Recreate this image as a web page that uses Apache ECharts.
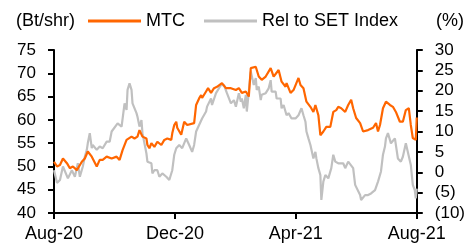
<!DOCTYPE html>
<html>
<head>
<meta charset="utf-8">
<script src="https://cdn.jsdelivr.net/npm/echarts@6/dist/echarts.min.js"></script>
<style>
html,body{margin:0;padding:0;background:#fff;}
#chart{width:468px;height:244px;}
</style>
</head>
<body>
<div id="chart"></div>
<script>
// Day offsets from 1 Aug 2020
const xTickLabels = ['Aug-20', 'Dec-20', 'Apr-21', 'Aug-21'];
const leftTicks = [40, 75, 5];
const rightTicks = [-10, 30, 5];

const mtcDays = [0,3,6,9,13,16,19,23,28,31,34,38,43,46,49,53,58,59,63,66,69,71,73,74,78,81,84,86,89,93,94,96,98,101,104,108,111,114,118,119,121,123,124,128,131,134,141,143,146,148,149,153,155,158,161,164,169,173,178,183,186,189,193,196,198,199,203,206,209,213,218,221,226,229,233,234,238,241,246,248,251,254,258,261,263,266,268,271,274,278,281,284,286,289,293,296,299,301,304,308,311,316,321,324,326,328,331,334,338,341,344,348,351,354,357,359,361,364,365];
const mtc = [51.0,50.0,50.3,51.7,50.7,49.6,50.0,49.2,51.0,51.7,53.2,52.1,50.0,51.4,51.4,52.1,51.7,51.4,52.1,51.4,53.5,53.9,55.7,56.0,56.4,56.0,56.4,57.8,56.4,56.0,54.6,53.9,55.0,54.2,55.3,54.6,55.7,56.0,55.7,57.1,58.9,59.6,58.3,56.8,59.6,58.9,59.3,63.2,64.6,65.3,64.7,66.1,66.8,65.8,66.8,67.1,67.9,66.8,66.8,66.4,66.8,65.8,66.1,65.0,71.1,70.7,71.4,69.3,68.6,69.3,71.1,69.3,70.7,68.2,67.1,67.9,65.8,66.4,69.0,67.5,66.8,63.9,62.8,61.7,63.2,61.0,56.7,57.5,58.5,58.5,61.7,62.1,62.8,62.5,61.7,63.2,64.3,62.5,60.4,59.3,57.5,57.8,58.3,59.3,57.5,58.9,62.5,63.9,63.2,62.8,61.7,59.6,59.6,62.1,62.5,58.9,56.1,55.7,60.5];

const relDays = [0,3,6,9,14,18,21,24,26,29,31,33,34,36,38,39,43,46,49,53,56,58,59,64,68,71,73,74,76,78,79,83,84,86,88,89,93,94,98,99,101,104,106,109,113,116,119,121,123,126,129,133,136,139,141,143,146,149,153,154,156,158,159,163,164,168,169,171,174,178,181,183,186,188,189,191,193,194,196,198,199,201,203,204,206,208,209,213,216,218,219,223,224,228,229,231,234,236,239,243,246,249,251,253,254,256,258,259,261,263,264,266,268,269,271,273,276,279,281,283,286,288,291,293,296,298,301,303,304,308,309,313,316,319,323,326,329,331,333,334,336,338,339,343,346,349,351,354,356,359,361,363,364,365];
const rel = [0.5,-2.6,-1.9,1.4,-1.5,0.5,-1.1,2.2,-1.1,1.4,3.8,5.5,7.1,9.6,5.9,6.7,5.5,6.3,5.9,7.5,7.5,10.0,10.4,12.0,11.2,16.9,15.3,20.2,21.8,20.2,16.9,14.5,13.6,11.2,12.8,9.6,4.6,2.6,2.2,-0.3,0.5,0.5,-1.1,-0.3,-1.1,-1.9,0.5,4.3,5.9,6.7,5.9,8.3,6.7,5.0,6.7,10.0,11.6,13.2,14.9,16.1,15.7,18.1,16.5,19.4,19.0,21.4,21.8,21.4,19.4,16.9,17.7,16.1,19.4,17.3,18.1,15.7,19.0,14.9,14.5,24.7,24.3,21.4,23.1,20.2,21.0,17.7,19.0,19.4,20.6,22.6,19.8,19.8,18.1,18.1,15.7,16.5,14.0,14.5,13.2,13.2,14.0,15.7,14.0,12.4,10.0,8.3,6.7,6.3,3.4,5.0,3.4,1.0,-0.7,-6.8,-2.3,-0.7,-1.5,1.0,4.3,2.6,2.2,1.8,2.2,1.0,2.6,2.6,1.0,-3.1,-2.7,-5.6,-6.8,-5.6,-5.6,-5.2,-4.4,-2.3,0.2,4.3,6.3,8.3,9.6,9.2,7.1,8.3,3.4,2.6,3.8,7.1,7.5,1.8,-3.1,-4.4,-6.4,-4.0];

const FONT = 'Liberation Sans, Arial, sans-serif';
const chart = echarts.init(document.getElementById('chart'), null, {renderer: 'canvas'});
const xInterval = 365 / 3;
const axisLine = {show: true, onZero: false, lineStyle: {color: '#000', width: 2}};
const axisTick = {show: true, length: 6, lineStyle: {color: '#000', width: 2}};

chart.setOption({
  animation: false,
  backgroundColor: '#fff',
  grid: {left: 54, right: 49, top: 50, bottom: 31, containLabel: false},
  legend: {
    data: ['MTC', 'Rel to SET Index'],
    left: 88, top: 12, padding: 0,
    icon: 'rect', itemWidth: 53, itemHeight: 3, itemGap: 19,
    textStyle: {fontFamily: FONT, fontSize: 18, color: '#000'}
  },
  graphic: [
    {type: 'text', left: 16, top: 12, style: {text: '(Bt/shr)', font: '18px ' + FONT, fill: '#000'}},
    {type: 'text', left: 436, top: 12, style: {text: '(%)', font: '18px ' + FONT, fill: '#000'}}
  ],
  xAxis: {
    type: 'value', min: 0, max: 365, interval: xInterval,
    axisLine: axisLine, axisTick: axisTick, splitLine: {show: false},
    axisLabel: {
      margin: 12, fontFamily: FONT, fontSize: 18, color: '#000',
      showMinLabel: true, showMaxLabel: true,
      formatter: v => xTickLabels[Math.round(v / xInterval)] || ''
    }
  },
  yAxis: [
    {
      type: 'value', position: 'left', min: leftTicks[0], max: leftTicks[1], interval: leftTicks[2],
      axisLine: axisLine, axisTick: axisTick, splitLine: {show: false},
      axisLabel: {margin: 18, fontFamily: FONT, fontSize: 17, color: '#000'}
    },
    {
      type: 'value', position: 'right', min: rightTicks[0], max: rightTicks[1], interval: rightTicks[2],
      axisLine: axisLine, axisTick: axisTick, splitLine: {show: false},
      axisLabel: {
        margin: 18, fontFamily: FONT, fontSize: 17, color: '#000',
        formatter: v => v < 0 ? '(' + Math.abs(v) + ')' : String(v)
      }
    }
  ],
  series: [
    {
      name: 'Rel to SET Index', type: 'line', yAxisIndex: 1, symbol: 'none',
      color: '#C0C0C0', lineStyle: {width: 2.2, color: '#C0C0C0'}, z: 2,
      data: relDays.map((d, i) => [d, rel[i]])
    },
    {
      name: 'MTC', type: 'line', yAxisIndex: 0, symbol: 'none',
      color: '#FF6600', lineStyle: {width: 2.2, color: '#FF6600'}, z: 3,
      data: mtcDays.map((d, i) => [d, mtc[i]])
    }
  ]
});
</script>
</body>
</html>
